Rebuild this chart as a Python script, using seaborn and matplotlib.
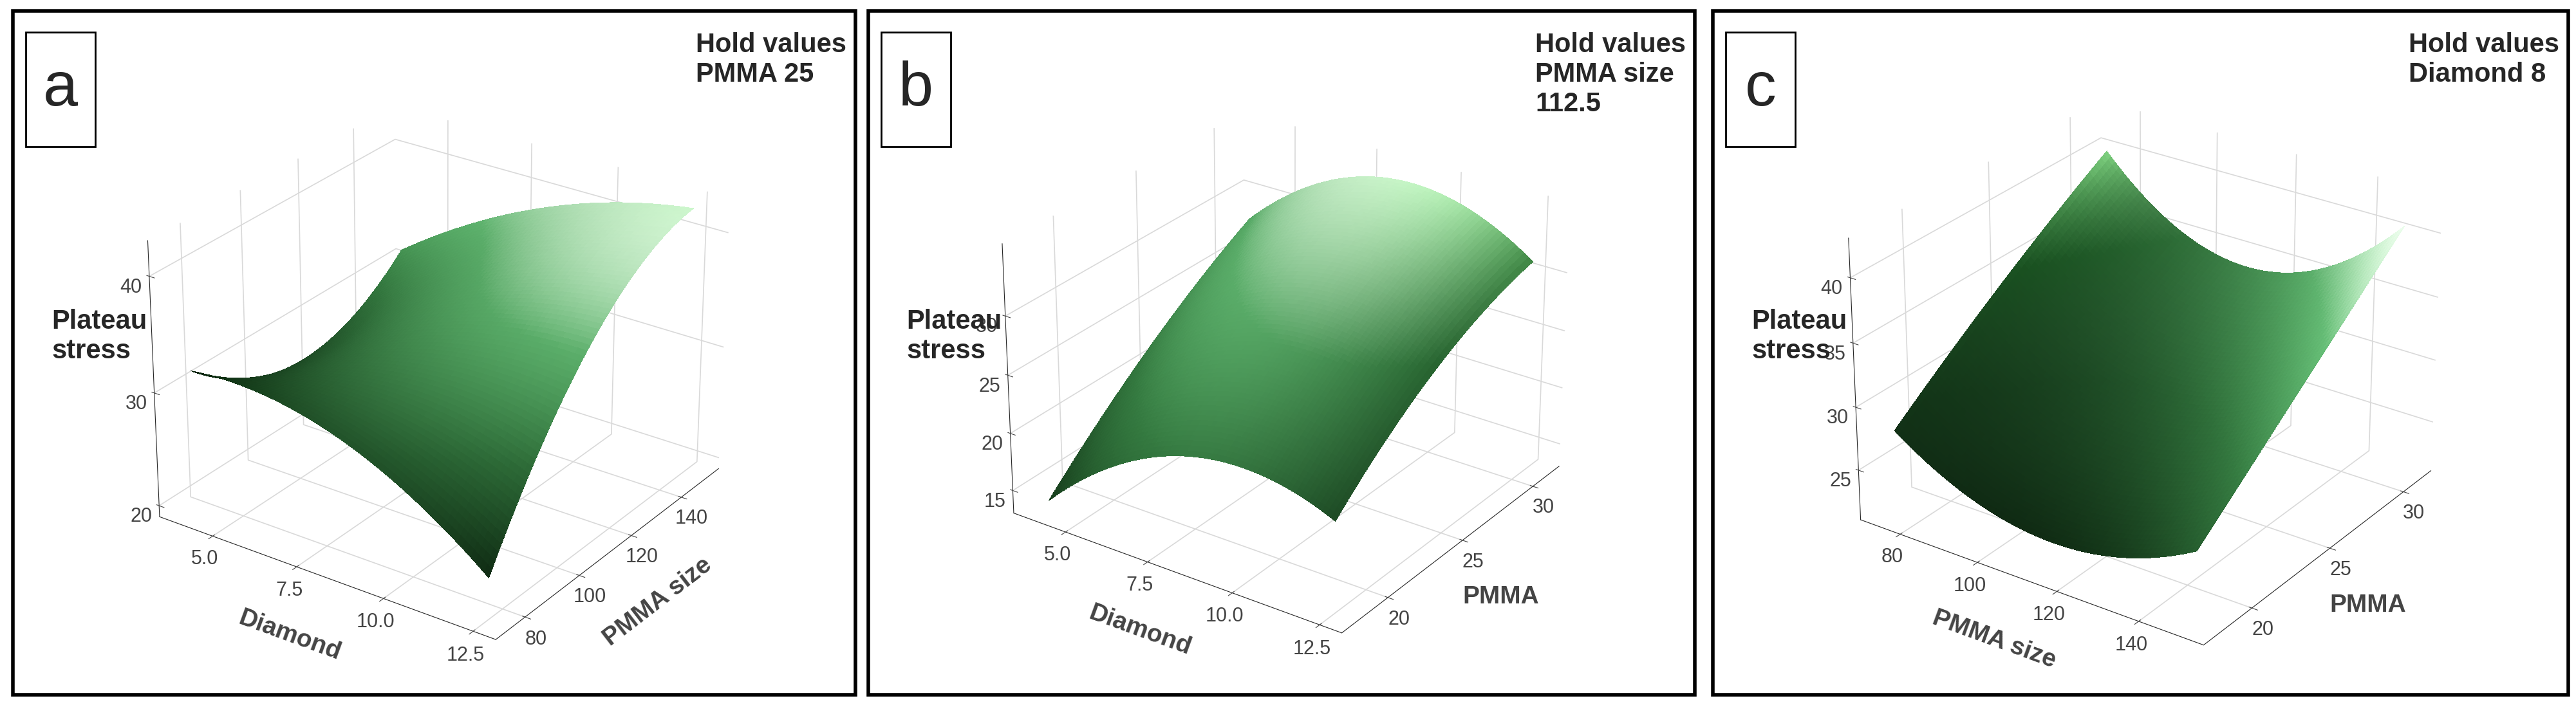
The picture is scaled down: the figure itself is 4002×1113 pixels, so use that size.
import numpy as np
import matplotlib
matplotlib.use("Agg")
import matplotlib.pyplot as plt
import seaborn as sns
from matplotlib.colors import LightSource, LinearSegmentedColormap
from matplotlib.patches import Rectangle

sns.set_style("white")
plt.rcParams['font.family'] = ['Liberation Sans', 'DejaVu Sans']

# panel a: Diamond x PMMA size (PMMA held at 25)
diamond = [4.0, 6.125, 8.25, 10.375, 12.5]
pmma_size = [75, 93.75, 112.5, 131.25, 150]
stress_a = [[32, 28, 27, 28, 31],
            [31, 30, 31, 33, 35],
            [31, 32, 34, 37, 39],
            [28, 32, 36, 39, 41],
            [22, 31, 37, 41, 42]]
# panel b: Diamond x PMMA (PMMA size held at 112.5)
pmma = [18, 21.25, 24.5, 27.75, 31]
stress_b = [[14, 18, 22, 25, 28],
            [19, 23, 27, 30, 32],
            [22, 26, 30, 33, 35],
            [23, 26, 30, 33, 34],
            [21, 24, 28, 30, 31]]
# panel c: PMMA size x PMMA (Diamond held at 8)
stress_c = [[28, 31, 34, 37, 40],
            [25, 28, 31, 34, 36],
            [23, 26, 29, 31, 33],
            [24, 27, 30, 33, 36],
            [27, 30, 34, 37, 41]]

panels = [
    dict(tag="a", x=diamond, y=pmma_size, z=stress_a, xl="Diamond", yl="PMMA size",
         xt=[5.0, 7.5, 10.0, 12.5], yt=[80, 100, 120, 140], zt=[20, 30, 40], zlim=(19, 43),
         hold="Hold values\nPMMA 25", box=(0.005, 0.03, 0.327, 0.955)),
    dict(tag="b", x=diamond, y=pmma, z=stress_b, xl="Diamond", yl="PMMA",
         xt=[5.0, 7.5, 10.0, 12.5], yt=[20, 25, 30], zt=[15, 20, 25, 30], zlim=(13, 36),
         hold="Hold values\nPMMA size\n112.5", box=(0.337, 0.03, 0.321, 0.955)),
    dict(tag="c", x=pmma_size, y=pmma, z=stress_c, xl="PMMA size", yl="PMMA",
         xt=[80, 100, 120, 140], yt=[20, 25, 30], zt=[25, 30, 35, 40], zlim=(21, 43),
         hold="Hold values\nDiamond 8", box=(0.665, 0.03, 0.332, 0.955)),
]

greens = LinearSegmentedColormap.from_list("g", ["#0c220f", "#1d4a24", "#3a7f45", "#c4f5c4"])


def smooth_fit(x, y, z):
    # response surface through the read-off grid (quadratic + interaction terms)
    X, Y = np.meshgrid(x, y, indexing="ij")
    u, v = X.ravel(), Y.ravel()
    A = np.column_stack([np.ones(u.size), u, v, u ** 2, v ** 2, u * v, u * v ** 2, u ** 2 * v])
    c, *_ = np.linalg.lstsq(A, np.asarray(z, float).ravel(), rcond=None)
    XF, YF = np.meshgrid(np.linspace(min(x), max(x), 70), np.linspace(min(y), max(y), 70),
                         indexing="ij")
    ZF = (c[0] + c[1] * XF + c[2] * YF + c[3] * XF ** 2 + c[4] * YF ** 2 + c[5] * XF * YF
          + c[6] * XF * YF ** 2 + c[7] * XF ** 2 * YF)
    return XF, YF, ZF


fig = plt.figure(figsize=(40.02, 11.13), dpi=100)
ls = LightSource(azdeg=300, altdeg=40)

for p in panels:
    bx, by, bw, bh = p["box"]
    fig.patches.append(Rectangle((bx, by), bw, bh, transform=fig.transFigure,
                                 fill=False, lw=4, ec="black"))
    ax = fig.add_axes([bx + 0.04, by - 0.05, bw - 0.08, bh + 0.06], projection="3d")
    XF, YF, ZF = smooth_fit(p["x"], p["y"], p["z"])
    zn = (ZF - ZF.min()) / (ZF.max() - ZF.min())
    rgb = ls.shade(zn, cmap=greens, vert_exag=25, blend_mode="soft")
    ax.plot_surface(XF, YF, ZF, facecolors=rgb, shade=False, linewidth=0,
                    antialiased=False, rcount=70, ccount=70)
    ax.view_init(elev=27, azim=-55)
    ax.zaxis._axinfo["juggled"] = (1, 2, 0)
    ax.set_zlim(*p["zlim"])
    ax.set_xticks(p["xt"])
    ax.set_yticks(p["yt"])
    ax.set_zticks(p["zt"])
    ax.tick_params(labelsize=22, colors="#444444")
    ax.set_xlabel(p["xl"], fontsize=28, color="#444444", fontweight="bold", labelpad=28)
    ax.set_ylabel(p["yl"], fontsize=28, color="#444444", fontweight="bold", labelpad=28)
    for axis in (ax.xaxis, ax.yaxis, ax.zaxis):
        axis.set_pane_color((1, 1, 1, 0))
        axis._axinfo["grid"]["color"] = (0.85, 0.85, 0.85, 1)
        axis._axinfo["grid"]["linewidth"] = 1.2
    fig.text(bx + 0.015, by + 0.5, "Plateau\nstress", fontsize=30, fontweight="bold",
             va="center", ha="left")
    fig.text(bx + bw - 0.062, by + bh - 0.03, p["hold"], fontsize=30, fontweight="bold",
             va="top", ha="left")
    fig.patches.append(Rectangle((bx + 0.005, by + bh - 0.19), 0.027, 0.16,
                                 transform=fig.transFigure, fill=False, lw=2, ec="black"))
    fig.text(bx + 0.0185, by + bh - 0.11, p["tag"], fontsize=70, ha="center", va="center")

fig.savefig("out.png", dpi=100)
